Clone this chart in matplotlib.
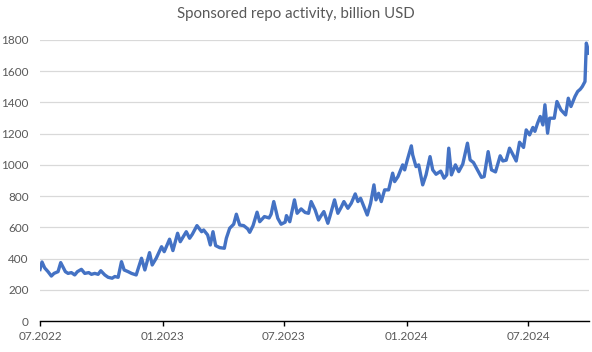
import matplotlib
matplotlib.use("Agg")
import matplotlib.pyplot as plt
import matplotlib.dates as mdates
import pandas as pd

plt.rcParams["font.family"] = ["Lato", "DejaVu Sans"]

title = "Sponsored repo activity, billion USD"

dates = [
    "2022-07-01", "2022-07-04", "2022-07-08", "2022-07-13", "2022-07-18", "2022-07-22",
    "2022-07-28", "2022-08-01", "2022-08-08", "2022-08-12", "2022-08-17", "2022-08-22",
    "2022-08-26", "2022-09-01", "2022-09-06", "2022-09-12", "2022-09-16", "2022-09-21",
    "2022-09-26", "2022-09-30", "2022-10-06", "2022-10-11", "2022-10-17", "2022-10-21",
    "2022-10-26", "2022-10-31", "2022-11-04", "2022-11-10", "2022-11-15", "2022-11-22",
    "2022-11-30", "2022-12-05", "2022-12-12", "2022-12-16", "2022-12-22", "2022-12-30",
    "2023-01-03", "2023-01-11", "2023-01-16", "2023-01-23", "2023-01-27", "2023-02-05",
    "2023-02-10", "2023-02-14", "2023-02-21", "2023-02-28", "2023-03-03", "2023-03-09",
    "2023-03-13", "2023-03-17", "2023-03-21", "2023-03-27", "2023-04-03", "2023-04-06",
    "2023-04-11", "2023-04-17", "2023-04-21", "2023-04-26", "2023-05-02", "2023-05-08",
    "2023-05-11", "2023-05-16", "2023-05-22", "2023-05-26", "2023-06-02", "2023-06-09",
    "2023-06-12", "2023-06-16", "2023-06-22", "2023-06-27", "2023-07-03", "2023-07-05",
    "2023-07-10", "2023-07-17", "2023-07-21", "2023-07-27", "2023-08-02", "2023-08-07",
    "2023-08-11", "2023-08-17", "2023-08-22", "2023-08-25", "2023-08-30", "2023-09-05",
    "2023-09-08", "2023-09-15", "2023-09-20", "2023-09-25", "2023-09-29", "2023-10-05",
    "2023-10-10", "2023-10-16", "2023-10-20", "2023-10-24", "2023-10-30", "2023-11-03",
    "2023-11-08", "2023-11-13", "2023-11-16", "2023-11-20", "2023-11-24", "2023-11-29",
    "2023-12-05", "2023-12-11", "2023-12-14", "2023-12-19", "2023-12-26", "2023-12-29",
    "2024-01-02", "2024-01-08", "2024-01-10", "2024-01-15", "2024-01-19", "2024-01-22",
    "2024-01-25", "2024-01-30", "2024-02-05", "2024-02-09", "2024-02-14", "2024-02-21",
    "2024-02-26", "2024-03-01", "2024-03-04", "2024-03-08", "2024-03-14", "2024-03-19",
    "2024-03-25", "2024-04-01", "2024-04-05", "2024-04-10", "2024-04-16", "2024-04-22",
    "2024-04-26", "2024-05-02", "2024-05-07", "2024-05-13", "2024-05-20", "2024-05-24",
    "2024-05-29", "2024-06-03", "2024-06-07", "2024-06-13", "2024-06-18", "2024-06-24",
    "2024-06-28", "2024-07-03", "2024-07-08", "2024-07-11", "2024-07-15", "2024-07-19",
    "2024-07-23", "2024-07-26", "2024-07-30", "2024-08-02", "2024-08-09", "2024-08-13",
    "2024-08-19", "2024-08-26", "2024-08-30", "2024-09-03", "2024-09-09", "2024-09-13",
    "2024-09-17", "2024-09-20", "2024-09-24", "2024-09-26", "2024-09-30",
]

volume = [
    330, 378, 340, 316, 288, 305,
    316, 374, 316, 305, 310, 295,
    316, 331, 305, 310, 299, 305,
    299, 322, 295, 280, 274, 285,
    280, 380, 327, 316, 305, 295,
    402, 327, 438, 359, 402, 476,
    444, 524, 451, 562, 508, 572,
    530, 555, 611, 572, 583, 551,
    487, 572, 483, 470, 466, 530,
    594, 620, 684, 615, 611, 590,
    568, 611, 697, 636, 669, 660,
    684, 765, 658, 620, 633, 675,
    636, 776, 690, 718, 695, 690,
    765, 711, 647, 669, 701, 626,
    669, 776, 690, 729, 765, 722,
    754, 814, 765, 786, 722, 679,
    754, 872, 776, 818, 765, 840,
    840, 947, 893, 925, 1000, 968,
    1032, 1122, 1064, 989, 1000, 936,
    872, 936, 1053, 968, 940, 960,
    915, 936, 1107, 936, 1000, 957,
    1005, 1139, 1032, 1015, 968, 920,
    925, 1085, 968, 955, 1058, 1025,
    1030, 1107, 1075, 1025, 1145, 1112,
    1224, 1192, 1240, 1215, 1267, 1310,
    1256, 1385, 1203, 1299, 1299, 1406,
    1352, 1320, 1427, 1374, 1438, 1470,
    1485, 1502, 1534, 1780, 1716,
]

tick_dates = ["2022-07-01", "2023-01-01", "2023-07-01", "2024-01-01", "2024-07-01"]

x = pd.to_datetime(dates)

fig = plt.figure(figsize=(5.92, 3.52), dpi=100)
ax = fig.add_axes([40 / 592, 31 / 352, 549 / 592, 281 / 352])

ax.plot(x, volume, color="#4472C4", lw=2.4, solid_joinstyle="round")

ax.set_ylim(0, 1800)
ax.set_yticks(range(0, 1801, 200))
ax.set_xlim(x[0], x[-1])
ax.set_xticks(pd.to_datetime(tick_dates))
ax.xaxis.set_major_formatter(mdates.DateFormatter("%m.%Y"))

ax.grid(axis="y", color="#D9D9D9", lw=0.9)
ax.set_axisbelow(True)
for side in ["top", "right", "left"]:
    ax.spines[side].set_visible(False)
ax.spines["bottom"].set_color("#000000")
ax.spines["bottom"].set_linewidth(1.0)
ax.tick_params(axis="y", length=0, pad=8, labelsize=8.5, labelcolor="#595959")
ax.tick_params(axis="x", length=3.5, width=1.0, color="#000000", pad=4,
               labelsize=8.5, labelcolor="#595959")

fig.text(0.5, 1 - 14 / 352, title, ha="center", va="center",
         fontsize=10.8, color="#595959")

fig.savefig("out.png", dpi=100)
